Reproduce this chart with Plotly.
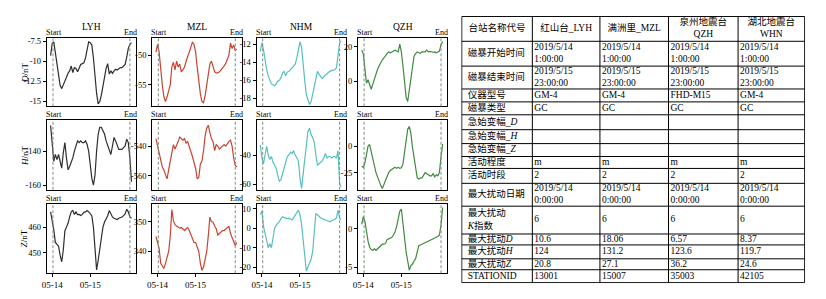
import pandas as pd
import plotly.graph_objects as go

# ---------------- data ----------------
TIME = [t.strftime("%Y-%m-%d %H:%M") for t in pd.date_range("2019-05-13 23:00", periods=52, freq="h")]
START_TIME = "2019-05-14 00:30"
END_TIME = "2019-05-16 01:00"
X_TICKS = ["2019-05-14 00:00", "2019-05-15 00:00"]
X_TICK_LABELS = ["05-14", "05-15"]

STATIONS = ["LYH", "MZL", "NHM", "QZH"]
COMPONENTS = ["D", "H", "Z"]

LYH_D = [-9.3, -7.8, -7.6, -9.0, -10.8, -12.0, -13.0, -13.4, -13.0, -12.4, -12.0, -11.5, -11.2, -10.6, -11.4, -10.8,
         -10.9, -11.3, -10.7, -10.4, -10.3, -10.2, -9.6, -8.6, -7.6, -7.7, -8.0, -9.6, -12.0, -14.0, -15.3, -15.0,
         -14.2, -13.0, -11.8, -10.9, -10.3, -11.6, -11.2, -11.5, -11.2, -11.0, -11.1, -10.9, -10.8, -10.8, -10.6,
         -10.4, -9.5, -8.4, -7.9, -7.7]
MZL_D = [-49.5, -48.2, -49.5, -52.5, -55.0, -57.0, -57.8, -57.0, -56.0, -55.0, -52.0, -51.2, -52.5, -51.0, -52.0, -51.5,
         -52.8, -52.5, -52.0, -51.0, -50.2, -49.5, -48.5, -47.8, -48.2, -49.5, -52.0, -54.5, -56.5, -57.8, -58.0, -56.8,
         -55.0, -53.0, -51.5, -51.0, -51.8, -52.8, -53.0, -53.0, -52.8, -52.5, -52.2, -51.8, -51.4, -50.8, -50.0, -48.0,
         -48.9, -48.3, -49.2, -49.0]
NHM_D = [-12.8, -11.8, -12.6, -14.0, -14.8, -15.5, -16.0, -16.4, -16.5, -16.6, -16.4, -16.1, -16.0, -15.7, -15.2, -15.0,
         -15.5, -15.1, -15.0, -14.8, -14.6, -14.4, -14.2, -13.5, -12.5, -11.7, -12.3, -14.5, -16.0, -17.6, -18.3, -18.7,
         -18.4, -17.5, -16.9, -15.8, -15.0, -15.3, -15.6, -15.8, -15.6, -15.4, -15.2, -15.1, -15.0, -14.9, -14.9, -14.8,
         -14.6, -12.8, -11.8, -11.6]
QZH_D = [18, 16, 7.6, -1, 1, -2, -4.5, -1.5, 1.5, 5, 7, 9, 11, 12.5, 13.5, 15.2, 16, 17, 16.5, 17, 17.5, 18, 17.5, 17,
         21.5, 17, 9, 1, -9, -11.5, -5, 4, 10, 14.5, 16, 17, 16.5, 16.2, 17, 17.2, 17, 18, 17, 17.3, 17, 16.8, 17, 16.5,
         17, 17.5, 21, 23]

LYH_H = [-125, -138, -146, -142, -145, -142, -147, -150, -141, -135, -144, -151, -149, -147, -144, -140, -137, -134,
         -135, -134, -135, -135, -134, -136, -140, -148, -156, -160, -154, -140, -130, -126, -126, -128, -130, -134,
         -137, -140, -142, -137, -132, -134, -137, -139, -139, -139, -138, -137, -133, -135, -144, -158]
MZL_H = [-535, -540, -546, -550, -554, -556, -559, -562, -556, -550, -543, -539, -542, -540, -537, -534, -535, -536,
         -535, -538, -537, -540, -544, -547, -551, -555, -562, -561, -552, -550, -543, -533, -528, -526, -531, -535,
         -537, -543, -539, -540, -542, -541, -540, -539, -540, -538, -537, -536, -540, -548, -553, -554]
NHM_H = [-33, -42, -46, -39, -34, -40, -43, -41, -45, -47, -49, -54, -58, -57, -53, -49, -46, -41, -40, -38, -39, -37,
         -40, -42, -44, -56, -63, -53, -42, -31, -24, -21.5, -26, -28, -31, -40, -47, -46, -45, -44, -42, -39, -42,
         -41, -41, -42, -41, -41, -42, -37, -60, -62]
QZH_H = [-19, -20, -16, -7, 0, 1.5, -5, -12, -21, -25, -29, -34, -37, -40, -36, -32, -27, -25, -23, -22, -21, -20,
         -21, -20, -21, -20.5, -17, -4, 9, 16, 18.5, 12, -1, -12, -24, -30, -31, -30, -30, -28, -25, -26, -27, -28,
         -28, -26, -29, -27, -28, -25, -10, 2]

LYH_Z = [466, 463, 459, 454, 453, 452.5, 449, 446.4, 451, 458.5, 460, 461.5, 464, 466, 466.5, 465, 466, 464.9, 465,
         464.6, 465, 465.8, 466, 466.5, 466, 465, 464.5, 460, 452, 443.2, 447, 451, 455, 460, 462, 463, 464.5, 466.5,
         465, 464, 463.5, 463.2, 463, 463.5, 463.6, 464, 464.5, 465.2, 467, 466, 464, 463.5]
MZL_Z = [345, 343, 341, 336, 335, 334.3, 336, 338, 340, 345, 354, 350.3, 349, 348.5, 348, 347.8, 348, 347.5, 347,
         347.6, 348, 347, 345.8, 344.8, 343, 343, 341.5, 340, 336, 333.7, 334.8, 337, 340, 345.3, 351.5, 350, 349.8,
         348.5, 347.6, 345.5, 346, 346.5, 347, 347, 347.5, 348, 348.5, 346, 344.5, 342.8, 342, 343]
NHM_Z = [7, 9, 1, -3, -7, -10, -8, -10, -5, 0, 1.7, 2.5, 3.4, 5, 6, 5.5, 5.2, 5, 5.2, 4.5, 4.3, 5.5, 6.8, 8.5, 9.4,
         7, 2, -6, -16, -22, -20, -18, -16, -12, -2, 7.5, 7, 6, 5.5, 5, 4.8, 4.3, 4, 3.6, 3.4, 4, 4.3, 4.5, 5.5, 9.4,
         5.2, 4.5]
QZH_Z = [0.6, 1.6, 1.0, -0.5, -1.6, -2.4, -2.7, -2.8, -2.6, -2.8, -2.6, -2.4, -2.1, -2.0, -2.0, -1.9, -1.4, -1.3,
         -1.2, -1.1, -0.8, -0.4, 0.3, 1.4, 2.3, 2.6, 0.5, -1.5, -3.0, -4.2, -5.4, -4.8, -4.6, -4.2, -3.9, -3.0, -2.2,
         -2.1, -2.0, -1.8, -1.7, -1.6, -1.5, -1.4, -1.4, -1.3, -1.2, -1.1, -1.0, -0.8, 0.5, 2.8]

LYH_D_TICKS = [-15, -12.5, -10, -7.5]
MZL_D_TICKS = [-55, -50]
NHM_D_TICKS = [-18, -16, -14, -12]
QZH_D_TICKS = [0, 20]
LYH_H_TICKS = [-160, -140]
MZL_H_TICKS = [-560, -540]
NHM_H_TICKS = [-60, -40]
QZH_H_TICKS = [-25, 0]
LYH_Z_TICKS = [450, 460]
MZL_Z_TICKS = [340, 350]
NHM_Z_TICKS = [-20, -10, 0, 10]
QZH_Z_TICKS = [-5, 0]

SERIES = [[LYH_D, MZL_D, NHM_D, QZH_D], [LYH_H, MZL_H, NHM_H, QZH_H], [LYH_Z, MZL_Z, NHM_Z, QZH_Z]]
TICKS = [[LYH_D_TICKS, MZL_D_TICKS, NHM_D_TICKS, QZH_D_TICKS],
         [LYH_H_TICKS, MZL_H_TICKS, NHM_H_TICKS, QZH_H_TICKS],
         [LYH_Z_TICKS, MZL_Z_TICKS, NHM_Z_TICKS, QZH_Z_TICKS]]

TABLE_HEADER = ["台站名称代号", "红山台_LYH", "满洲里_MZL", "泉州地震台<br>QZH", "湖北地震台<br>WHN"]
TABLE_ROW_LABELS = ["磁暴开始时间", "磁暴结束时间", "仪器型号", "磁暴类型", "急始变幅_<i>D</i>", "急始变幅_<i>H</i>",
                    "急始变幅_<i>Z</i>", "活动程度", "活动时段", "最大扰动日期", "最大扰动<br><i>K</i>指数",
                    "最大扰动<i>D</i>", "最大扰动<i>H</i>", "最大扰动<i>Z</i>", "STATIONID"]
TABLE_LYH = ["2019/5/14<br>1:00:00", "2019/5/15<br>23:00:00", "GM-4", "GC", "", "", "", "m", "2",
             "2019/5/14<br>0:00:00", "6", "10.6", "124", "20.8", "13001"]
TABLE_MZL = ["2019/5/14<br>1:00:00", "2019/5/15<br>23:00:00", "GM-4", "GC", "", "", "", "m", "2",
             "2019/5/14<br>0:00:00", "6", "18.06", "131.2", "27.1", "15007"]
TABLE_QZH = ["2019/5/14<br>1:00:00", "2019/5/15<br>23:00:00", "FHD-M15", "GC", "", "", "", "m", "2",
             "2019/5/14<br>0:00:00", "6", "6.57", "123.6", "36.2", "35003"]
TABLE_WHN = ["2019/5/14<br>1:00:00", "2019/5/15<br>23:00:00", "GM-4", "GC", "", "", "", "m", "2",
             "2019/5/14<br>0:00:00", "6", "8.37", "119.7", "24.6", "42105"]
TABLE_COLUMNS = [TABLE_ROW_LABELS, TABLE_LYH, TABLE_MZL, TABLE_QZH, TABLE_WHN]

# ---------------- layout / style ----------------
W, H = 826, 299
PAGE_OFFSET = 8          # default body margin of the html page
COL_LEFT = [42, 148, 253, 355]
PANEL_W = 90
ROW_TOP = [36, 119, 203]
PANEL_H = [69, 70, 70]
X_RANGE = ["2019-05-13 20:36", "2019-05-16 05:00"]
Y_RANGES = [
    [(-15.6, -7.1), (-58.6, -47.1), (-18.9, -11.26), (-14.3, 25.1)],
    [(-162.7, -121.9), (-569.3, -522.7), (-63.9, -16.1), (-41.2, 24.4)],
    [(441.9, 469.2), (332.7, 356.0), (-23.2, 12.7), (-5.8, 3.3)],
]
COLORS = ["#2e2e2e", "#c8442f", "#58bfc0", "#3f8a3f"]
DASH_COLOR = "#7f8f7f"
SERIF = "Liberation Serif, Noto Sans CJK SC"

TABLE_LEFT, TABLE_TOP = 459, 14
COL_WIDTHS = [71, 68, 69, 70, 67]
ROW_HEIGHTS = [25, 25, 23, 13, 13, 15, 14, 13, 12, 15, 23, 28, 11, 14, 11, 13]


def px_x(v):
    return (v - PAGE_OFFSET) / W


def px_y(v):
    return 1 - (v - PAGE_OFFSET) / H


fig = go.Figure()
axes = {}
annotations = []
shapes = []

for r, comp in enumerate(COMPONENTS):
    for c, st in enumerate(STATIONS):
        k = r * 4 + c + 1
        xa = "x" if k == 1 else f"x{k}"
        ya = "y" if k == 1 else f"y{k}"
        fig.add_trace(go.Scatter(x=TIME, y=SERIES[r][c], mode="lines",
                                 line=dict(color=COLORS[c], width=1.2),
                                 xaxis=xa, yaxis=ya, showlegend=False, hoverinfo="skip"))
        x0 = px_x(COL_LEFT[c])
        x1 = px_x(COL_LEFT[c] + PANEL_W)
        y1 = px_y(ROW_TOP[r])
        y0 = px_y(ROW_TOP[r] + PANEL_H[r])
        axes["xaxis" if k == 1 else f"xaxis{k}"] = dict(
            domain=[x0, x1], anchor=ya, type="date", range=X_RANGE,
            showline=True, mirror=True, linecolor="black", linewidth=1,
            showgrid=False, zeroline=False, tickvals=X_TICKS, ticktext=X_TICK_LABELS,
            showticklabels=(r == 2), ticks="outside" if r == 2 else "", ticklen=3,
            tickcolor="black", tickfont=dict(family=SERIF, size=9, color="black"), fixedrange=True)
        tv = TICKS[r][c]
        axes["yaxis" if k == 1 else f"yaxis{k}"] = dict(
            domain=[y0, y1], anchor=xa, range=list(Y_RANGES[r][c]),
            showline=True, mirror=True, linecolor="black", linewidth=1,
            showgrid=False, zeroline=False, tickvals=tv, ticktext=[f"{v:g}" for v in tv],
            ticks="outside", ticklen=3, tickcolor="black",
            tickfont=dict(family=SERIF, size=8.5, color="black"), fixedrange=True)
        for t in (START_TIME, END_TIME):
            shapes.append(dict(type="line", xref=xa, yref=f"{ya} domain", x0=t, x1=t, y0=0, y1=1,
                               line=dict(color=DASH_COLOR, width=1, dash="3px,2px")))
        annotations.append(dict(text="Start", xref=f"{xa} domain", yref=f"{ya} domain", x=0, y=1,
                                xanchor="left", yanchor="bottom", showarrow=False, borderpad=0, xshift=-2,
                                font=dict(family=SERIF, size=8, color="black")))
        annotations.append(dict(text="End", xref=f"{xa} domain", yref=f"{ya} domain", x=1, y=1,
                                xanchor="right", yanchor="bottom", showarrow=False, borderpad=0, xshift=2,
                                font=dict(family=SERIF, size=8, color="black")))
        if r == 0:
            annotations.append(dict(text=st, xref=f"{xa} domain", yref=f"{ya} domain", x=0.5, y=1,
                                    xanchor="center", yanchor="bottom", yshift=4, showarrow=False,
                                    font=dict(family=SERIF, size=9.5, color="black")))
        if c == 0:
            annotations.append(dict(text=f"<i>{comp}</i>/nT", xref="paper", yref="paper", x=px_x(20),
                                    y=(y0 + y1) / 2, xanchor="center", yanchor="middle", textangle=-90,
                                    showarrow=False, font=dict(family=SERIF, size=9, color="black")))

# ---------------- table (drawn on its own axes, 1 unit = 1 px) ----------------
col_edges = [0]
for w in COL_WIDTHS:
    col_edges.append(col_edges[-1] + w)
row_edges = [0]
for h in ROW_HEIGHTS:
    row_edges.append(row_edges[-1] + h)
tw, th = col_edges[-1], row_edges[-1]

gx, gy = [], []
for ye in row_edges:
    gx += [0, tw, None]
    gy += [ye, ye, None]
for xe in col_edges:
    gx += [xe, xe, None]
    gy += [0, th, None]
fig.add_trace(go.Scatter(x=gx, y=gy, mode="lines", line=dict(color="black", width=1),
                         xaxis="x13", yaxis="y13", showlegend=False, hoverinfo="skip"))

# header
fig.add_trace(go.Scatter(
    x=[(col_edges[i] + col_edges[i + 1]) / 2 for i in range(len(TABLE_HEADER))],
    y=[(row_edges[0] + row_edges[1]) / 2] * len(TABLE_HEADER),
    text=TABLE_HEADER, mode="text", textposition="middle center",
    textfont=dict(family=SERIF, size=9.5, color="black"),
    xaxis="x13", yaxis="y13", showlegend=False, hoverinfo="skip"))
# body
for ci, col in enumerate(TABLE_COLUMNS):
    pad = 6 if ci == 0 else 2
    fig.add_trace(go.Scatter(
        x=[col_edges[ci] + pad] * len(col),
        y=[(row_edges[ri + 1] + row_edges[ri + 2]) / 2 for ri in range(len(col))],
        text=col, mode="text", textposition="middle right",
        textfont=dict(family=SERIF, size=9.5, color="black"),
        xaxis="x13", yaxis="y13", showlegend=False, hoverinfo="skip"))

axes["xaxis13"] = dict(domain=[px_x(TABLE_LEFT), px_x(TABLE_LEFT + tw + 1)], anchor="y13",
                       range=[-0.5, tw + 0.5], visible=False, fixedrange=True)
axes["yaxis13"] = dict(domain=[px_y(TABLE_TOP + th + 1), px_y(TABLE_TOP)], anchor="x13",
                       range=[th + 0.5, -0.5], visible=False, fixedrange=True)

fig.update_layout(width=W, height=H, autosize=False, margin=dict(l=0, r=0, t=0, b=0),
                  paper_bgcolor="white", plot_bgcolor="white", showlegend=False,
                  annotations=annotations, shapes=shapes, **axes)

fig.write_html("out.html")
